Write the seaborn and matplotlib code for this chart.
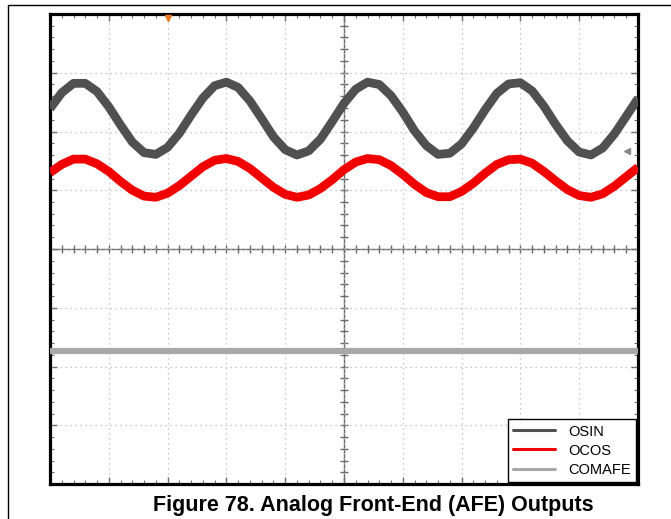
import matplotlib
matplotlib.use("Agg")
import matplotlib.pyplot as plt
from matplotlib.lines import Line2D
import pandas as pd
import seaborn as sns

# time axis in scope divisions (10 div across)
t_div = [0.0, 0.2, 0.4, 0.6, 0.8, 1.0, 1.2, 1.4, 1.6, 1.8,
         2.0, 2.2, 2.4, 2.6, 2.8, 3.0, 3.2, 3.4, 3.6, 3.8,
         4.0, 4.2, 4.4, 4.6, 4.8, 5.0, 5.2, 5.4, 5.6, 5.8,
         6.0, 6.2, 6.4, 6.6, 6.8, 7.0, 7.2, 7.4, 7.6, 7.8,
         8.0, 8.2, 8.4, 8.6, 8.8, 9.0, 9.2, 9.4, 9.6, 9.8, 10.0]

# in vertical divisions (0 = centre line)
osin = [2.39, 2.66, 2.82, 2.82, 2.68, 2.42, 2.11, 1.82, 1.64, 1.61,
        1.73, 1.97, 2.28, 2.57, 2.78, 2.84, 2.75, 2.52, 2.22, 1.91,
        1.69, 1.60, 1.67, 1.87, 2.17, 2.48, 2.72, 2.84, 2.80, 2.61,
        2.33, 2.01, 1.76, 1.61, 1.63, 1.79, 2.06, 2.37, 2.65, 2.81,
        2.83, 2.69, 2.43, 2.12, 1.84, 1.65, 1.60, 1.72, 1.96, 2.26, 2.56]
ocos = [1.30, 1.44, 1.53, 1.53, 1.45, 1.32, 1.15, 1.00, 0.90, 0.88,
        0.95, 1.08, 1.24, 1.40, 1.51, 1.54, 1.49, 1.37, 1.21, 1.05,
        0.93, 0.88, 0.92, 1.03, 1.18, 1.35, 1.48, 1.54, 1.52, 1.42,
        1.27, 1.10, 0.96, 0.89, 0.89, 0.98, 1.12, 1.29, 1.44, 1.52,
        1.53, 1.46, 1.32, 1.16, 1.01, 0.91, 0.88, 0.94, 1.07, 1.23, 1.39]
comafe_t = [0, 1, 2, 3, 4, 5, 6, 7, 8, 9, 10]
comafe = [-1.74, -1.74, -1.74, -1.74, -1.74, -1.74, -1.74, -1.74, -1.74, -1.74, -1.74]

names = ["OSIN", "OCOS", "COMAFE"]
colors = ["#505050", "#f00000", "#a8a8a8"]
trigger_pos = 2.0
ref_level = 1.67

df = pd.concat([
    pd.DataFrame({"t": t_div, "v": osin, "sig": "OSIN"}),
    pd.DataFrame({"t": t_div, "v": ocos, "sig": "OCOS"}),
    pd.DataFrame({"t": comafe_t, "v": comafe, "sig": "COMAFE"}),
])

sns.set_style("white")
plt.rcParams["font.family"] = ["Liberation Sans", "DejaVu Sans"]
plt.rcParams["text.color"] = "black"

fig = plt.figure(figsize=(6.71, 5.19), dpi=100)
pos = [50 / 671, 35 / 519, 588 / 671, 470 / 519]
ax = fig.add_axes(pos)

sns.lineplot(data=df, x="t", y="v", hue="sig", hue_order=names,
             palette=dict(zip(names, colors)), sort=False, ax=ax,
             legend=True, zorder=5)
for ln, lw in zip(ax.lines[:3], [6.3, 6.3, 4.5]):
    ln.set_linewidth(lw)
    ln.set_solid_capstyle("butt")
    ln.set_solid_joinstyle("round")

ax.set_xlim(0, 10)
ax.set_ylim(-4, 4)
ax.set_xlabel("")
ax.set_ylabel("")

# graticule
ax.set_xticks(range(0, 11))
ax.set_yticks(range(-4, 5))
ax.set_xticks([i * 0.2 for i in range(51)], minor=True)
ax.set_yticks([i * 0.2 - 4 for i in range(41)], minor=True)
ax.tick_params(which="both", direction="in", top=True, right=True,
               bottom=True, left=True,
               labelbottom=False, labelleft=False, color="#707070")
ax.tick_params(which="major", length=5, width=1)
ax.tick_params(which="minor", length=3, width=0.8)
ax.grid(True, which="major", color="#b8b8b8", linestyle=(0, (1, 3)), lw=0.9)
for s in ax.spines.values():
    s.set_visible(True)
    s.set_color("black")
    s.set_linewidth(2.3)

# centre cross with ticks
ax2 = fig.add_axes(pos, sharex=ax, sharey=ax, zorder=0)
ax2.patch.set_visible(False)
for k in ["top", "right"]:
    ax2.spines[k].set_visible(False)
for k in ["left", "bottom"]:
    ax2.spines[k].set_position(("axes", 0.5))
    ax2.spines[k].set_color("#6a6a6a")
    ax2.spines[k].set_linewidth(1.0)
ax2.tick_params(which="both", direction="inout", bottom=True, left=True,
                top=False, right=False, labelbottom=False,
                labelleft=False, color="#6a6a6a", length=6, width=1)
ax.set_zorder(1)
ax.patch.set_visible(False)

# trigger and reference markers
ax.plot([trigger_pos], [3.93], marker="v", color="#f07820", ms=5,
        clip_on=False, zorder=6)
ax.plot([9.81], [ref_level], marker="<", color="#8a8a8a", ms=4, zorder=6)

leg = ax.legend(loc="lower right", bbox_to_anchor=(1.0, 0.0),
                borderaxespad=0.15, frameon=True, fancybox=False,
                framealpha=1, edgecolor="black", fontsize=10.5,
                handlelength=2.9, handletextpad=0.9, labelspacing=0.35,
                borderpad=0.35)
leg.get_frame().set_linewidth(1.0)
for h in leg.get_lines():
    h.set_linewidth(2.2)
for t in leg.get_texts():
    t.set_color("black")

# page rules
fig.add_artist(Line2D([8 / 671, 8 / 671], [0, 1 - 5 / 519], color="black", lw=1))
fig.add_artist(Line2D([8 / 671, 1], [1 - 5 / 519, 1 - 5 / 519], color="black", lw=1))

fig.text(373 / 671, 14 / 519, "Figure 78. Analog Front-End (AFE) Outputs",
         ha="center", va="center", fontsize=15.5, fontweight="bold",
         color="black")

fig.savefig("out.png", dpi=100)
